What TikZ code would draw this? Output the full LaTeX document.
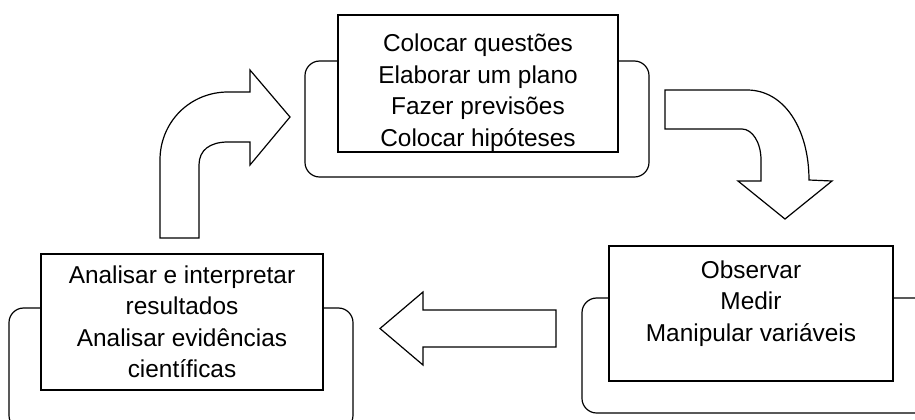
\documentclass[tikz,border=0pt]{standalone}
\usepackage{fontspec}
\setmainfont{Liberation Sans}
\usepackage{tikz}

\begin{document}
\begin{tikzpicture}[x=0.75pt,y=0.75pt,yscale=-1,xscale=1,
  every path/.style={line width=0.9pt},
  backbox/.style={fill=white,rounded corners=11pt},
  stagebox/.style={draw,fill=white,inner sep=0pt,align=center,font=\fontsize{18.3}{23.6}\selectfont},
  blockarrow/.style={draw,fill=white,line join=miter}]
\path[use as bounding box] (0,0) rectangle (915,419);

%Rounded Rect (back of the stages)
\draw [backbox] (305,61) rectangle (649,177);
\draw [backbox] (9,308) rectangle (353,430);
\draw [backbox] (582,298) rectangle (940,413);

%Shape: Rectangle + Text Node
\node [stagebox,minimum width=280*0.75pt,minimum height=137*0.75pt] (questoes) at (478,83.5)
  {\strut\\[-13pt]Colocar questões\\Elaborar um plano\\Fazer previsões\\Colocar hipóteses};
%Shape: Rectangle + Text Node
\node [stagebox,minimum width=284*0.75pt,minimum height=135*0.75pt] (observar) at (751,313.5)
  {Observar\\Medir\\Manipular variáveis\\[-12pt]\strut};
%Shape: Rectangle + Text Node
\node [stagebox,minimum width=282*0.75pt,minimum height=136*0.75pt] (analisar) at (182,322)
  {Analisar e interpretar\\resultados\\Analisar evidências\\científicas};

%Bent Arrow (analisar -> questoes)
\draw [blockarrow] (160,238) -- (160,160) .. controls (160,122) and (190,92) .. (228,92) -- (250,92) -- (250,70) -- (290,117) -- (250,165) -- (250,142) -- (228,142) .. controls (210,142) and (199,150) .. (199,165) -- (199,238) -- cycle;
%Bent Arrow (questoes -> observar)
\draw [blockarrow] (665,90) -- (747,90) .. controls (785,90) and (809,130) .. (809,180) -- (832,181) -- (785,219) -- (738,181) -- (761,181) -- (761,160) .. controls (761,142) and (752,129) .. (742,129) -- (665,129) -- cycle;
%Left Arrow (observar -> analisar)
\draw [blockarrow] (556,310) -- (423,310) -- (423,292) -- (380,328.5) -- (423,365) -- (423,347) -- (556,347) -- cycle;

\end{tikzpicture}
\end{document}
